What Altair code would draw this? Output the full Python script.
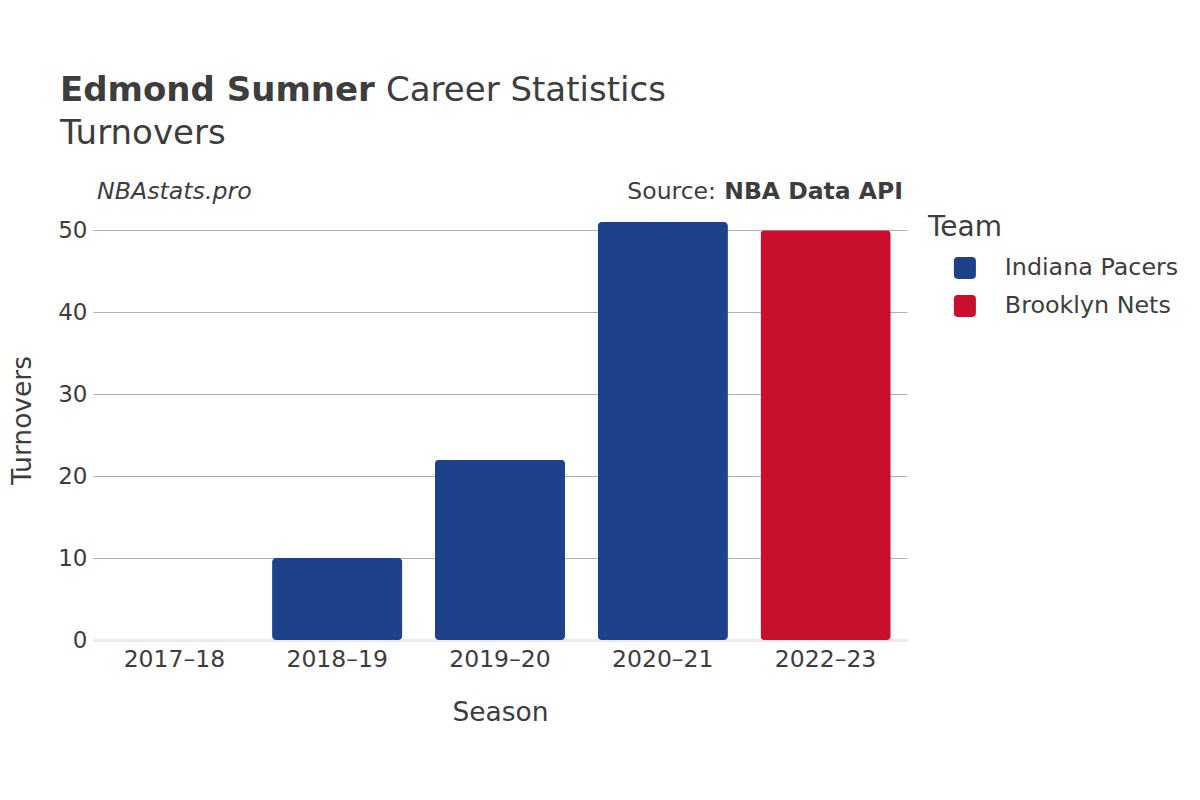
import altair as alt
import pandas as pd

seasons = ["2017–18", "2018–19", "2019–20", "2020–21", "2022–23"]
turnovers = [0, 10, 22, 51, 50]
teams = ["Indiana Pacers", "Indiana Pacers", "Indiana Pacers", "Indiana Pacers", "Brooklyn Nets"]
team_names = ["Indiana Pacers", "Brooklyn Nets"]
team_colors = ["#1d428a", "#c8102e"]
y_ticks = [0, 10, 20, 30, 40, 50]

df = pd.DataFrame({"Season": seasons, "Turnovers": turnovers, "Team": teams})

FONT = "DejaVu Sans"
TXT = "#3d3d3d"
ROUNDED = "M-0.65,-1 H0.65 Q1,-1 1,-0.65 V0.65 Q1,1 0.65,1 H-0.65 Q-1,1 -1,0.65 V-0.65 Q-1,-1 -0.65,-1 Z"

bars = alt.Chart(df).mark_bar(cornerRadius=4).encode(
    x=alt.X(
        "Season:N", sort=seasons,
        scale=alt.Scale(paddingInner=0.2, paddingOuter=0.1),
        axis=alt.Axis(title="Season", labelAngle=0, ticks=False, grid=False,
                      domainColor="#ebebeb", domainWidth=3,
                      labelPadding=7, titlePadding=29,
                      labelFontSize=23.5, titleFontSize=26.5,
                      labelColor=TXT, titleColor=TXT, labelFont=FONT, titleFont=FONT,
                      titleFontWeight="normal"),
    ),
    y=alt.Y(
        "Turnovers:Q",
        scale=alt.Scale(domain=[0, 53.7], nice=False),
        axis=alt.Axis(title="Turnovers", values=y_ticks, ticks=False, domain=False,
                      gridColor="#b0b0b0", gridWidth=1,
                      labelPadding=6, titlePadding=21,
                      labelFontSize=23, titleFontSize=26.5,
                      labelColor=TXT, titleColor=TXT, labelFont=FONT, titleFont=FONT,
                      titleFontWeight="normal"),
    ),
    color=alt.Color(
        "Team:N",
        scale=alt.Scale(domain=team_names, range=team_colors),
        legend=alt.Legend(title="Team", orient="none", legendX=835, legendY=14,
                          symbolType=ROUNDED, symbolSize=484, symbolStrokeWidth=0,
                          symbolOffset=25, labelOffset=28, rowPadding=13,
                          labelLimit=400,
                          titleFontSize=28, labelFontSize=23.8, titlePadding=14,
                          titleColor=TXT, labelColor=TXT, titleFont=FONT, labelFont=FONT,
                          titleFontWeight="normal"),
    ),
)


def txt(text, x, y, size, weight="normal", style="normal", align="left"):
    return alt.Chart(pd.DataFrame({"t": [text]})).mark_text(
        align=align, baseline="alphabetic", font=FONT, fontSize=size,
        fontWeight=weight, fontStyle=style, color=TXT,
    ).encode(x=alt.value(x), y=alt.value(y), text="t:N")


layers = [
    bars,
    txt("Edmond Sumner", -33, -99, 34, weight="bold"),
    txt("Career Statistics", 293, -99, 34),
    txt("Turnovers", -33, -56, 34),
    txt("NBAstats.pro", 4, -1, 23.7, style="italic"),
    txt("NBA Data API", 810, -1, 23.5, weight="bold", align="right"),
    txt("Source:", 623, -1, 23.5, align="right"),
]

chart = alt.layer(*layers).properties(
    width=814, height=440,
    background="white",
    autosize=alt.AutoSizeParams(type="none"),
    padding={"left": 85, "top": 192, "right": 285, "bottom": 152},
).configure_view(stroke=None)

chart.save("out.html", embed_options={"renderer": "svg", "actions": False})
